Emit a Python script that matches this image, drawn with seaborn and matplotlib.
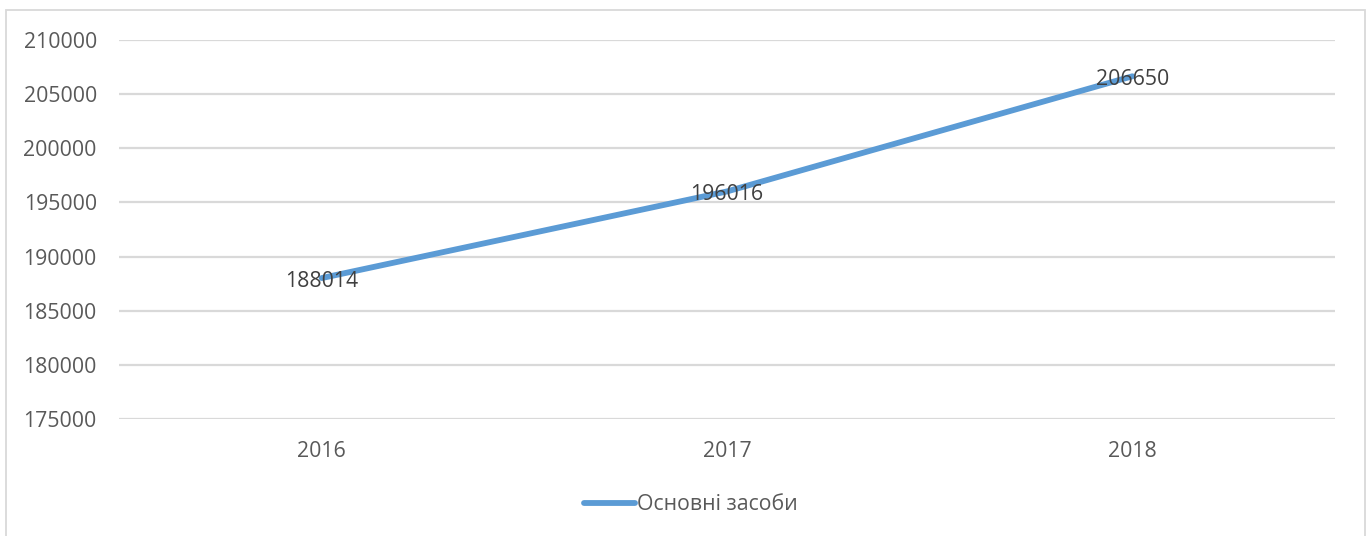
import matplotlib
matplotlib.use("Agg")
import matplotlib.pyplot as plt
from matplotlib.patches import Rectangle
import pandas as pd
import seaborn as sns

# Fixed assets by year
years = ["2016", "2017", "2018"]
fixed_assets = [188014, 196016, 206650]
series_name = "Основні засоби"
y_ticks = [175000, 180000, 185000, 190000, 195000, 200000, 205000, 210000]

df = pd.DataFrame({"year": years, "value": fixed_assets})

sns.set_theme(style="white")
plt.rcParams["font.family"] = ["Open Sans", "DejaVu Sans"]

LINE = "#5B9BD5"
GRID = "#D9D9D9"
TICK = "#595959"
LABEL = "#404040"
FS = 15.3

fig = plt.figure(figsize=(13.7, 5.36), dpi=100)
ax = fig.add_axes([0.0869, 0.2183, 0.8876, 0.7071])

sns.lineplot(data=df, x="year", y="value", ax=ax, color=LINE, linewidth=4.2,
             sort=False, label=series_name, solid_capstyle="round")

ax.set_xlim(-0.5, len(years) - 0.5)
ax.set_ylim(y_ticks[0], y_ticks[-1])
ax.set_yticks(y_ticks)
ax.set_yticklabels([str(t) for t in y_ticks])
ax.set_xticks(range(len(years)))
ax.set_xticklabels(years)
ax.set_xlabel("")
ax.set_ylabel("")

ax.yaxis.grid(True, color=GRID, linewidth=1.6)
ax.xaxis.grid(False)
ax.set_axisbelow(True)
for s in ax.spines.values():
    s.set_visible(False)
ax.tick_params(axis="y", length=0, pad=16, labelsize=FS, labelcolor=TICK)
ax.tick_params(axis="x", length=0, pad=16, labelsize=FS, labelcolor=TICK)

# value labels centred on each point
for i, v in enumerate(fixed_assets):
    ax.annotate(str(v), xy=(i, v), xytext=(0, -2.5), textcoords="offset points",
                ha="center", va="center", fontsize=FS, color=LABEL)

ax.legend_.remove()
handles, labels = ax.get_legend_handles_labels()
leg = fig.legend(handles, labels, loc="center", bbox_to_anchor=(0.504, 0.058),
                 frameon=False, fontsize=FS, handlelength=2.4, handletextpad=0.1)
for t in leg.get_texts():
    t.set_color(TICK)

# chart-area border
fig.patches.append(Rectangle((0.0044, -0.05), 0.992, 1.0313, transform=fig.transFigure,
                             fill=False, edgecolor=GRID, linewidth=1.3))

fig.savefig("out.png", dpi=100, facecolor="white")
